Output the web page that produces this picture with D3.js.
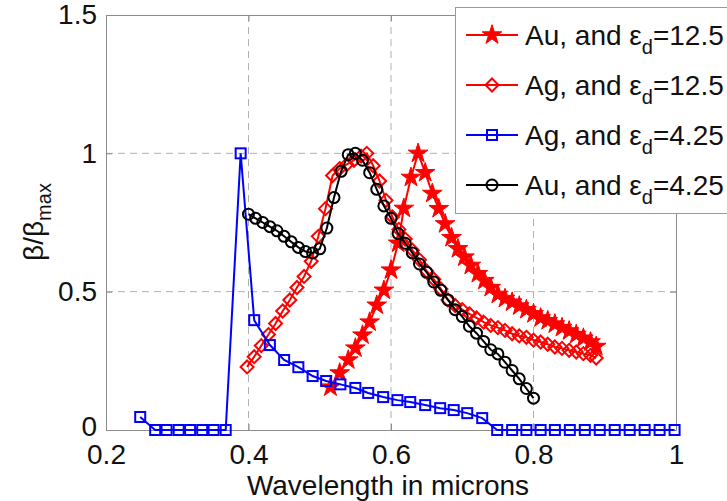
<!DOCTYPE html>
<html><head><meta charset="utf-8">
<script src="https://cdn.jsdelivr.net/npm/d3@7"></script>
<style>body{margin:0;background:#fff}svg{display:block}text{font-family:"Liberation Sans",Arial,sans-serif}</style>
</head><body><svg id="c" width="727" height="501"></svg>
<script>
// ---- data ----
const xTicks = [0.2, 0.4, 0.6, 0.8, 1.0];
const xTickLabels = ["0.2", "0.4", "0.6", "0.8", "1"];
const yTicks = [0, 0.5, 1, 1.5];
const yTickLabels = ["0", "0.5", "1", "1.5"];

// Au, eps_d = 12.5 (red stars)
const auHighX = [0.515,0.528,0.54,0.55,0.56,0.57,0.58,0.59,0.60,0.61,0.618,0.628,0.638,
  0.648,0.658,0.667,0.676,0.685,0.694,0.703,0.712,0.722,0.731,0.740,0.750,0.760,0.770,0.780,
  0.790,0.800,0.810,0.820,0.830,0.840,0.850,0.860,0.870,0.880,0.888];
const auHighY = [0.155,0.206,0.253,0.296,0.343,0.39,0.451,0.505,0.578,0.675,0.801,0.913,1.0,
  0.93,0.855,0.80,0.745,0.695,0.655,0.625,0.595,0.565,0.54,0.515,0.49,0.475,0.462,0.448,
  0.435,0.42,0.405,0.395,0.383,0.37,0.358,0.345,0.332,0.318,0.302];

// Ag, eps_d = 12.5 (red diamonds)
const agHighX = [0.398,0.408,0.418,0.428,0.438,0.448,0.458,0.468,0.478,0.488,0.498,0.508,0.518,
  0.528,0.538,0.548,0.558,0.566,0.575,0.584,0.593,0.602,0.611,0.620,0.630,0.640,0.650,0.660,
  0.670,0.680,0.690,0.700,0.710,0.720,0.730,0.740,0.750,0.760,0.770,0.780,0.790,0.800,0.810,
  0.820,0.830,0.840,0.850,0.860,0.870,0.880,0.888];
const agHighY = [0.228,0.265,0.305,0.345,0.385,0.43,0.47,0.515,0.555,0.61,0.70,0.80,0.92,
  0.945,0.96,0.975,0.99,1.0,0.955,0.90,0.83,0.77,0.725,0.69,0.65,0.615,0.575,0.545,
  0.51,0.47,0.45,0.435,0.42,0.405,0.39,0.378,0.37,0.36,0.348,0.34,0.335,0.325,0.318,
  0.31,0.30,0.295,0.288,0.282,0.276,0.27,0.26];

// Ag, eps_d = 4.25 (blue squares)
const agLowX = [0.248,0.269,0.285,0.302,0.318,0.335,0.351,0.368,0.389,0.408,0.430,0.450,0.470,
  0.490,0.509,0.529,0.550,0.568,0.589,0.609,0.627,0.648,0.669,0.688,0.707,0.728,0.749,0.770,
  0.790,0.810,0.830,0.851,0.872,0.893,0.914,0.935,0.956,0.977,0.998];
const agLowY = [0.047,0,0,0,0,0,0,0,1.0,0.397,0.307,0.253,0.227,
  0.195,0.177,0.165,0.152,0.134,0.119,0.108,0.101,0.090,0.079,0.072,0.061,0.043,0,0,
  0,0,0,0,0,0,0,0,0,0,0];

// Au, eps_d = 4.25 (black circles)
const auLowX = [0.40,0.41,0.42,0.43,0.44,0.45,0.46,0.47,0.48,0.49,0.50,0.51,0.52,0.53,0.54,
  0.55,0.56,0.57,0.58,0.59,0.60,0.61,0.62,0.63,0.64,0.65,0.66,0.67,0.68,0.69,0.70,0.71,0.72,
  0.73,0.74,0.75,0.76,0.77,0.78,0.79,0.80];
const auLowY = [0.78,0.765,0.75,0.735,0.72,0.70,0.68,0.66,0.645,0.64,0.655,0.73,0.84,0.935,0.995,
  1.0,0.975,0.93,0.87,0.81,0.765,0.71,0.675,0.64,0.60,0.57,0.535,0.505,0.47,0.435,0.41,0.375,0.35,
  0.32,0.29,0.275,0.245,0.215,0.185,0.15,0.115];

const seriesMetal = ["Au, and ε", "Ag, and ε", "Ag, and ε", "Au, and ε"];
const seriesEps = ["=12.5", "=12.5", "=4.25", "=4.25"];
const seriesColors = ["#ff0000", "#ff0000", "#0000ff", "#000000"];
const seriesMarkers = ["star", "diamond", "square", "circle"];

// ---- chart ----
const svg = d3.select("#c");
const L = 106, R = 676, T = 15, B = 430;
const FS = 28;
const x = d3.scaleLinear().domain([0.2, 1.0]).range([L, R]);
const y = d3.scaleLinear().domain([0, 1.5]).range([B, T]);

// grid
const grid = svg.append("g").attr("stroke", "#b0b0b0").attr("stroke-width", 1).attr("stroke-dasharray", "7,5");
xTicks.slice(1, -1).forEach(v => grid.append("line").attr("x1", x(v)).attr("x2", x(v)).attr("y1", T).attr("y2", B));
yTicks.slice(1, -1).forEach(v => grid.append("line").attr("y1", y(v)).attr("y2", y(v)).attr("x1", L).attr("x2", R));

// axes
const ax = svg.append("g").attr("transform", `translate(0,${B})`)
  .call(d3.axisBottom(x).tickValues(xTicks).tickFormat((d, i) => xTickLabels[i]).tickSize(-6).tickPadding(10));
const ay = svg.append("g").attr("transform", `translate(${L},0)`)
  .call(d3.axisLeft(y).tickValues(yTicks).tickFormat((d, i) => yTickLabels[i]).tickSize(-6).tickPadding(9));
const axTop = svg.append("g").attr("transform", `translate(0,${T})`)
  .call(d3.axisTop(x).tickValues(xTicks).tickFormat("").tickSize(-6));
const ayRight = svg.append("g").attr("transform", `translate(${R},0)`)
  .call(d3.axisRight(y).tickValues(yTicks).tickFormat("").tickSize(-6));
[ax, ay, axTop, ayRight].forEach(g => {
  g.selectAll("path.domain").attr("stroke", "#8c8c8c");
  g.selectAll(".tick line").attr("stroke", "#8c8c8c");
  g.selectAll("text").attr("fill", "#111").style("font-size", FS + "px");
});
ax.selectAll("text").attr("dy", "0.85em");
// the "0" label sits just above the "0.2" label, as in the original
ay.selectAll(".tick").filter(d => d === 0).select("text").attr("dy", "0.18em");

// marker shapes
function drawMarker(g, type, cx, cy, color) {
  if (type === "star") {
    g.append("path").attr("d", d3.symbol(d3.symbolStar, 120)()).attr("transform", `translate(${cx},${cy})`)
      .attr("fill", color).attr("stroke", color).attr("stroke-width", 1);
  } else if (type === "diamond") {
    const s = 6.5;
    g.append("path").attr("d", `M${cx},${cy - s}L${cx + s},${cy}L${cx},${cy + s}L${cx - s},${cy}Z`)
      .attr("fill", "none").attr("stroke", color).attr("stroke-width", 2);
  } else if (type === "square") {
    const s = 5;
    g.append("rect").attr("x", cx - s).attr("y", cy - s).attr("width", 2 * s).attr("height", 2 * s)
      .attr("fill", "none").attr("stroke", color).attr("stroke-width", 2);
  } else {
    g.append("circle").attr("cx", cx).attr("cy", cy).attr("r", 5.5)
      .attr("fill", "none").attr("stroke", color).attr("stroke-width", 2);
  }
}

const seriesData = [
  auHighX.map((v, i) => [v, auHighY[i]]),
  agHighX.map((v, i) => [v, agHighY[i]]),
  agLowX.map((v, i) => [v, agLowY[i]]),
  auLowX.map((v, i) => [v, auLowY[i]])
];
const line = d3.line().x(d => x(d[0])).y(d => y(d[1]));
const plot = svg.append("g");
seriesData.forEach((data, k) => {
  const g = plot.append("g");
  g.append("path").attr("d", line(data)).attr("fill", "none").attr("stroke", seriesColors[k]).attr("stroke-width", 2);
  data.forEach(d => drawMarker(g, seriesMarkers[k], x(d[0]), y(d[1]), seriesColors[k]));
});

// axis labels
svg.append("text").attr("x", 388).attr("y", 495).attr("text-anchor", "middle").style("font-size", FS + "px").attr("fill", "#111")
  .text("Wavelength in microns");
const yl = svg.append("text").attr("transform", "translate(43,222) rotate(-90)").attr("text-anchor", "middle")
  .style("font-size", FS + "px").attr("fill", "#111");
yl.append("tspan").text("β/β");
yl.append("tspan").attr("dy", 8).style("font-size", "20px").text("max");

// legend
const lg = svg.append("g");
lg.append("rect").attr("x", 455.5).attr("y", 7.5).attr("width", 300).attr("height", 206)
  .attr("fill", "#fff").attr("stroke", "#999").attr("stroke-width", 1);
seriesMetal.forEach((name, k) => {
  const yy = 35 + k * 50;
  lg.append("line").attr("x1", 466).attr("x2", 518).attr("y1", yy).attr("y2", yy)
    .attr("stroke", seriesColors[k]).attr("stroke-width", 2);
  drawMarker(lg, seriesMarkers[k], 492, yy, seriesColors[k]);
  const t = lg.append("text").attr("x", 525).attr("y", yy + 10).style("font-size", FS + "px").attr("fill", "#111");
  t.append("tspan").text(name);
  t.append("tspan").attr("dy", 9).style("font-size", "20px").text("d");
  t.append("tspan").attr("dy", -9).text(seriesEps[k]);
});
</script></body></html>
